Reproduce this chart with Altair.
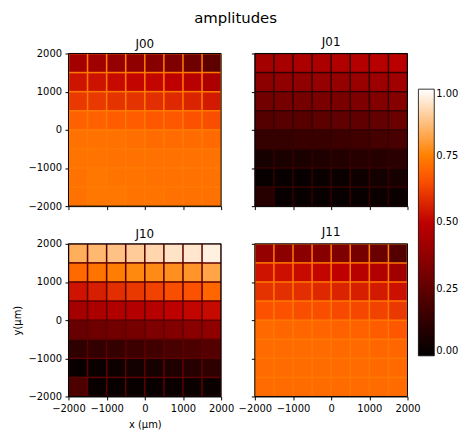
import altair as alt
import pandas as pd

panels = ["J00", "J01", "J10", "J11"]
x_centers = [-1750, -1250, -750, -250, 250, 750, 1250, 1750]
y_centers = [1750, 1250, 750, 250, -250, -750, -1250, -1750]
half_cell = 250
inset = 20

J00 = [
    [0.43, 0.42, 0.39, 0.38, 0.35, 0.33, 0.29, 0.24],
    [0.54, 0.535, 0.52, 0.51, 0.51, 0.50, 0.48, 0.45],
    [0.61, 0.61, 0.60, 0.60, 0.59, 0.58, 0.57, 0.55],
    [0.69, 0.69, 0.68, 0.68, 0.67, 0.67, 0.66, 0.65],
    [0.72, 0.72, 0.72, 0.715, 0.71, 0.71, 0.71, 0.705],
    [0.725, 0.725, 0.72, 0.72, 0.72, 0.72, 0.72, 0.72],
    [0.72, 0.73, 0.725, 0.725, 0.72, 0.72, 0.72, 0.72],
    [0.72, 0.73, 0.73, 0.725, 0.725, 0.72, 0.72, 0.72],
]
J01 = [
    [0.43, 0.44, 0.45, 0.45, 0.46, 0.47, 0.48, 0.49],
    [0.37, 0.38, 0.38, 0.39, 0.39, 0.40, 0.41, 0.42],
    [0.30, 0.31, 0.31, 0.32, 0.32, 0.33, 0.34, 0.35],
    [0.22, 0.23, 0.23, 0.24, 0.25, 0.25, 0.26, 0.28],
    [0.14, 0.14, 0.15, 0.15, 0.16, 0.17, 0.18, 0.19],
    [0.06, 0.07, 0.07, 0.08, 0.09, 0.10, 0.10, 0.11],
    [0.02, 0.02, 0.02, 0.03, 0.03, 0.04, 0.05, 0.06],
    [0.10, 0.02, 0.02, 0.02, 0.02, 0.02, 0.03, 0.03],
]
J10 = [
    [0.84, 0.86, 0.88, 0.90, 0.92, 0.945, 0.95, 0.97],
    [0.705, 0.725, 0.745, 0.765, 0.77, 0.78, 0.79, 0.82],
    [0.54, 0.56, 0.59, 0.61, 0.63, 0.65, 0.66, 0.70],
    [0.43, 0.45, 0.46, 0.47, 0.48, 0.50, 0.51, 0.52],
    [0.27, 0.29, 0.30, 0.31, 0.33, 0.34, 0.36, 0.38],
    [0.12, 0.13, 0.14, 0.16, 0.17, 0.19, 0.20, 0.22],
    [0.02, 0.03, 0.04, 0.05, 0.06, 0.08, 0.10, 0.12],
    [0.20, 0.02, 0.02, 0.02, 0.02, 0.03, 0.03, 0.03],
]
J11 = [
    [0.39, 0.37, 0.36, 0.35, 0.33, 0.31, 0.28, 0.22],
    [0.54, 0.53, 0.52, 0.51, 0.50, 0.48, 0.46, 0.42],
    [0.60, 0.595, 0.59, 0.58, 0.57, 0.56, 0.55, 0.53],
    [0.66, 0.66, 0.65, 0.65, 0.645, 0.64, 0.63, 0.61],
    [0.705, 0.70, 0.70, 0.695, 0.69, 0.69, 0.68, 0.67],
    [0.71, 0.71, 0.71, 0.71, 0.705, 0.705, 0.70, 0.70],
    [0.71, 0.71, 0.71, 0.71, 0.71, 0.71, 0.705, 0.705],
    [0.71, 0.71, 0.71, 0.71, 0.71, 0.71, 0.71, 0.71],
]
grids = [J00, J01, J10, J11]
gap_values = [0.74, 0.14, 0.24, 0.735]

axis_ticks = [-2000, -1000, 0, 1000, 2000]
axis_domain = [-2000, 2000]
cbar_ticks = [0.0, 0.25, 0.5, 0.75, 1.0]

# gist_heat colormap breakpoints
cmap_domain = [0.0, 0.5, 2 / 3, 0.75, 1.0]
cmap_range = ["#000000", "#bf0000", "#ff5500", "#ff8000", "#ffffff"]

rows = []
for p, grid in zip(panels, grids):
    for i, yc in enumerate(y_centers):
        for j, xc in enumerate(x_centers):
            rows.append({"panel": p, "xc": xc, "yc": yc, "v": grid[i][j]})
cells_df = pd.DataFrame(rows)
bg_df = pd.DataFrame({"panel": panels, "v": gap_values})

W = 154
H = 154

color_scale = alt.Scale(domain=cmap_domain, range=cmap_range, interpolate="rgb")
color_legend = alt.Legend(values=cbar_ticks, format=".2f", title=None, direction="vertical")


def panel(name, show_x, show_y, x_title, y_title, title_dy):
    xs = alt.Scale(domain=axis_domain, nice=False, zero=False)
    ys = alt.Scale(domain=axis_domain, nice=False, zero=False)
    xaxis = alt.Axis(values=axis_ticks, labels=show_x, title=x_title, format="d")
    yaxis = alt.Axis(values=axis_ticks, labels=show_y, title=y_title, format="d")
    bg = (
        alt.Chart(bg_df)
        .transform_filter(alt.datum.panel == name)
        .mark_rect()
        .encode(
            x=alt.value(0), x2=alt.value(W), y=alt.value(0), y2=alt.value(H),
            color=alt.Color("v:Q", scale=color_scale, legend=color_legend),
        )
    )
    cells = (
        alt.Chart(cells_df)
        .transform_filter(alt.datum.panel == name)
        .transform_calculate(
            x0=f"datum.xc - {half_cell - inset}",
            x1=f"datum.xc + {half_cell - inset}",
            y0=f"datum.yc - {half_cell - inset}",
            y1=f"datum.yc + {half_cell - inset}",
        )
        .mark_rect()
        .encode(
            x=alt.X("x0:Q", scale=xs, axis=xaxis),
            x2="x1:Q",
            y=alt.Y("y0:Q", scale=ys, axis=yaxis),
            y2="y1:Q",
            color=alt.Color("v:Q", scale=color_scale, legend=color_legend),
        )
    )
    frame = (
        alt.Chart(bg_df)
        .transform_filter(alt.datum.panel == name)
        .mark_rect(filled=False, stroke="black", strokeWidth=1)
        .encode(x=alt.value(0), x2=alt.value(W), y=alt.value(0), y2=alt.value(H))
    )
    return alt.layer(bg, cells, frame).properties(
        width=W, height=H,
        title=alt.TitleParams(name, fontSize=12, fontWeight="normal", font="DejaVu Sans",
                              offset=2, dy=title_dy, frame="group"),
    )


p00 = panel("J00", False, True, None, None, 4)
p01 = panel("J01", False, False, None, None, -2)
p10 = panel("J10", True, True, "x (μm)", "y(μm)", 4)
p11 = panel("J11", True, False, None, None, -2)

chart = (
    alt.concat(p00, p01, p10, p11, columns=2, spacing={"row": 38, "column": 34}, bounds="flush")
    .properties(
        title=alt.TitleParams("amplitudes", fontSize=15, fontWeight="normal", font="DejaVu Sans",
                              anchor="middle", offset=10),
        padding={"left": 4, "top": 1, "right": 5, "bottom": 5},
    )
    .configure_axis(
        labelFont="DejaVu Sans", labelFontSize=10, labelColor="black",
        titleFont="DejaVu Sans", titleFontSize=10, titleFontWeight="normal", titleColor="black",
        tickColor="black", domainColor="black", tickSize=3.5, labelPadding=3.5, titlePadding=6,
        grid=False, labelFlush=False, labelOverlap=False, zindex=1,
    )
    .configure_legend(
        orient="none", legendX=353, legendY=36, gradientLength=269, gradientThickness=16,
        labelFont="DejaVu Sans", labelFontSize=10, labelColor="black", labelOffset=6,
        padding=0, gradientStrokeColor="black", gradientStrokeWidth=0.8, labelBaseline="middle",
    )
    .configure_view(strokeWidth=0)
)

chart.save("out.html", embed_options={"renderer": "svg", "actions": False})
